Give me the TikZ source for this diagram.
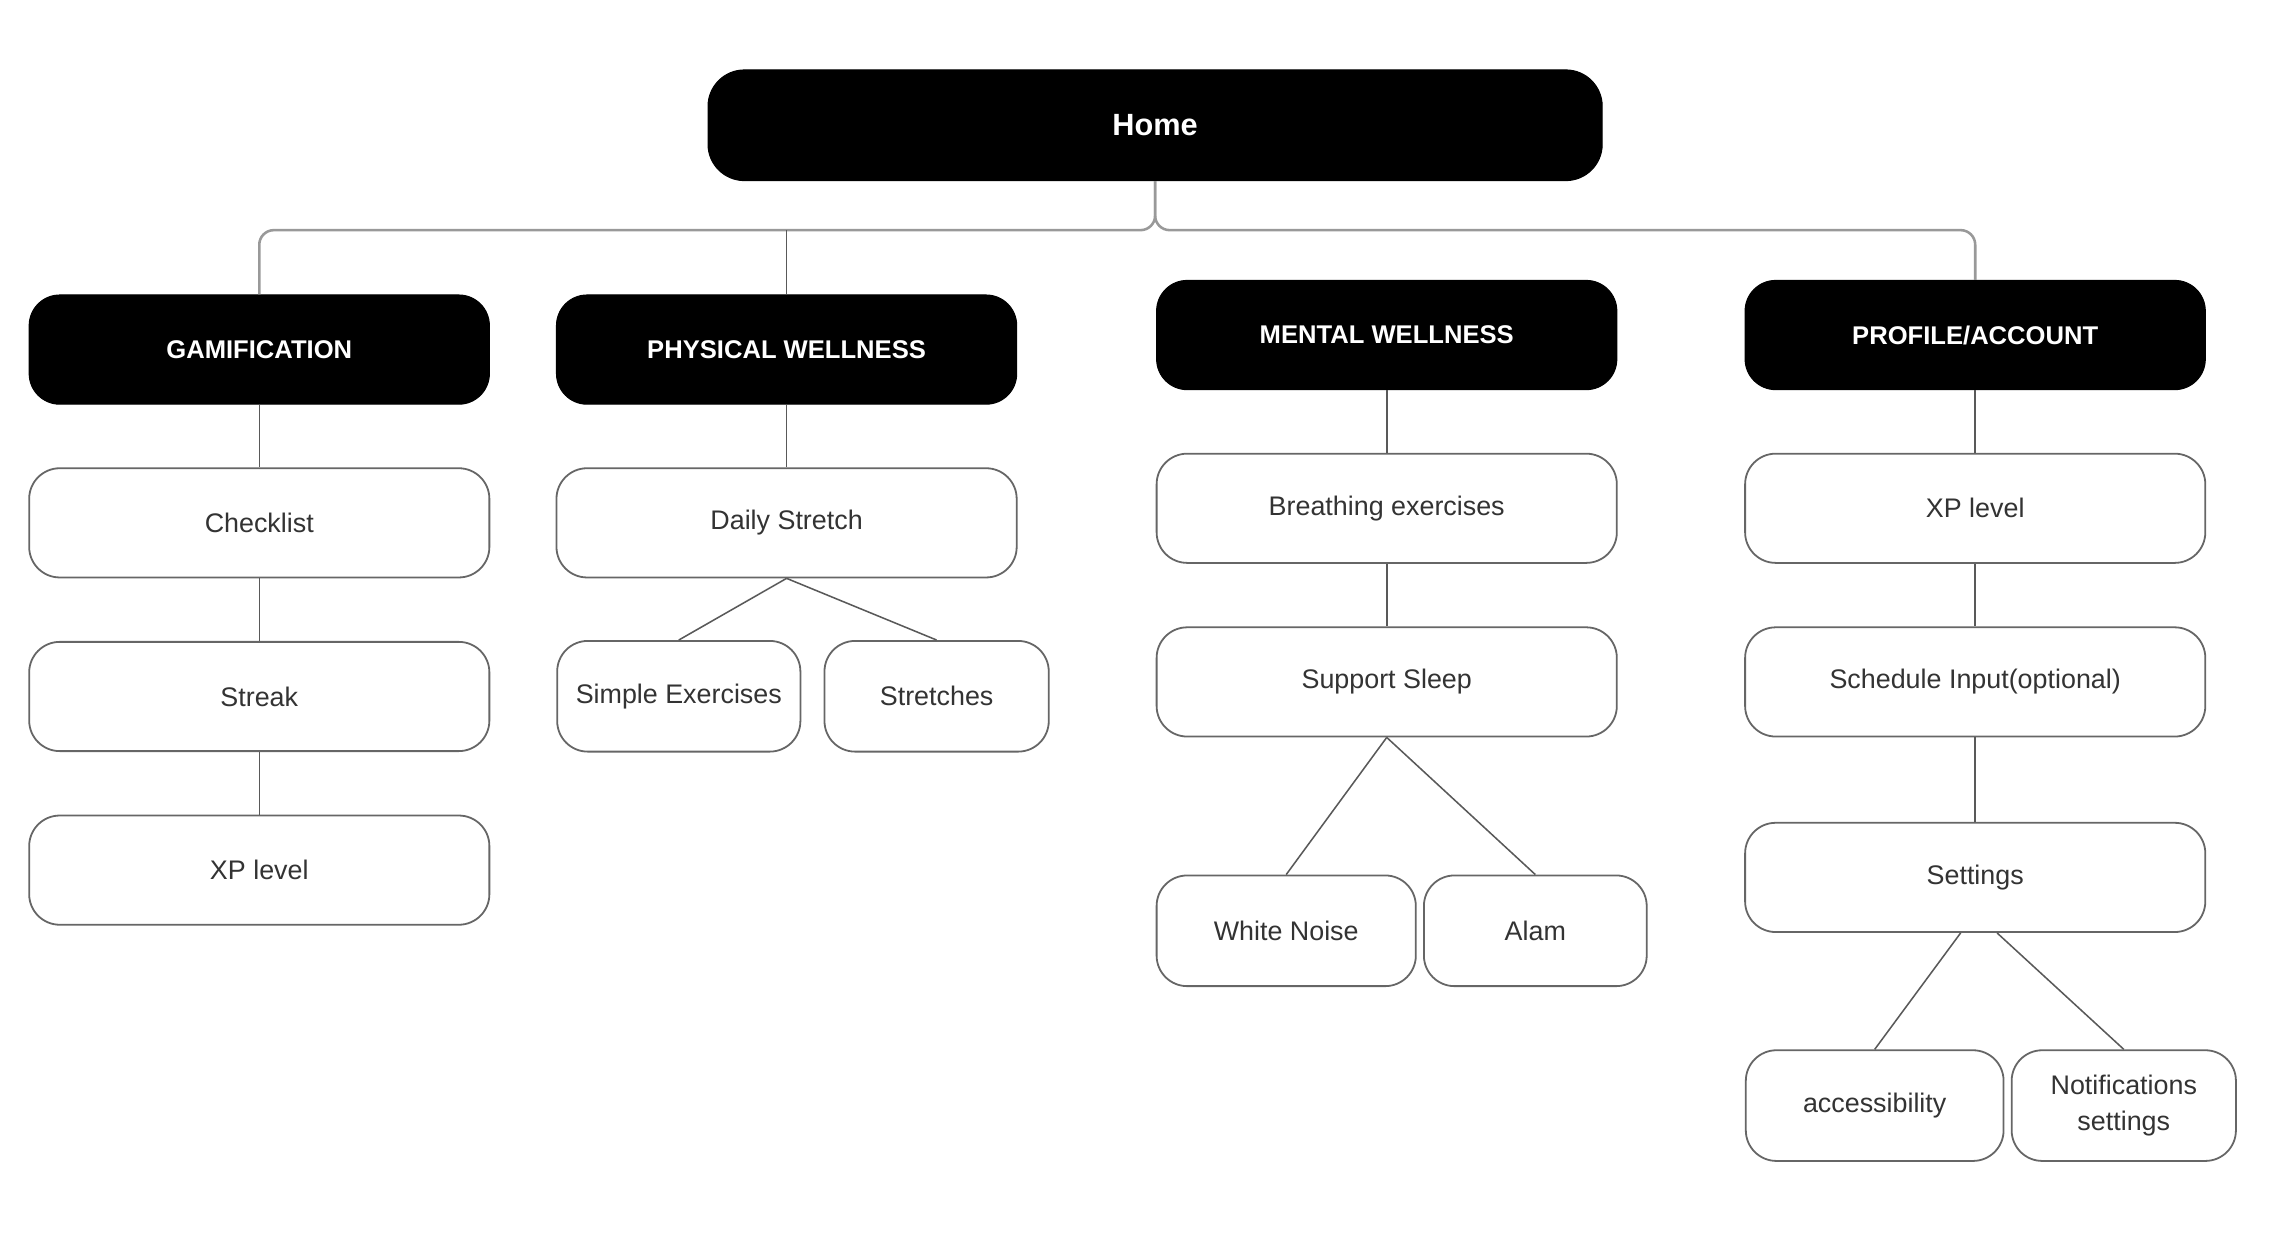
\documentclass[tikz,border=0pt]{standalone}
\usepackage{fontspec}
\setmainfont{Liberation Sans}
\usetikzlibrary{positioning}

\begin{document}
\begin{tikzpicture}[x=0.02cm,y=-0.02cm,node distance=0.86cm,
  head node/.style={rectangle,rounded corners=0.42cm,fill=black,draw=black,text=white,font=\fontsize{10}{12}\selectfont\bfseries,minimum width=6.32cm,minimum height=1.5cm},
  sub node/.style={rectangle,rounded corners=0.42cm,draw=black!60,line width=0.7pt,fill=white,text=black!80,font=\fontsize{10.5}{14}\selectfont,minimum width=6.32cm,minimum height=1.5cm,align=center},
  leaf node/.style={sub node,minimum height=1.52cm},
  link/.style={draw=black!65,line width=0.6pt},
  bus link/.style={draw=black!40,line width=1pt,rounded corners=0.2cm}]

\useasboundingbox (0,0) rectangle (1568,855);

% top level
\node[head node,minimum width=12.28cm,minimum height=1.52cm,rounded corners=0.5cm,font=\fontsize{12}{14}\selectfont\bfseries] (home) at (793,86) {Home};
\node[head node] (gam) at (178,240) {GAMIFICATION};
\node[head node] (phys) at (540,240) {PHYSICAL WELLNESS};
\node[head node] (ment) at (952,230) {MENTAL WELLNESS};
\node[head node] (prof) at (1356,230) {PROFILE/ACCOUNT};

% gamification
\node[sub node] (check) [below=of gam] {Checklist};
\node[sub node] (streak) [below=of check] {Streak};
\node[sub node] (xpgam) [below=of streak] {XP level};

% physical wellness
\node[sub node] (stretch) [below=of phys] {Daily Stretch};
\node[leaf node,minimum width=3.34cm] (simple) at (466,478) {Simple Exercises};
\node[leaf node,minimum width=3.08cm] (stretches) at (643,478) {Stretches};

% mental wellness
\node[sub node] (breath) [below=of ment] {Breathing exercises};
\node[sub node] (sleep) [below=of breath] {Support Sleep};
\node[leaf node,minimum width=3.56cm] (noise) at (883,639) {White Noise};
\node[leaf node,minimum width=3.06cm] (alam) at (1054,639) {Alam};

% profile
\node[sub node] (xpprof) [below=of prof] {XP level};
\node[sub node] (sched) [below=of xpprof] {Schedule Input(optional)};
\node[sub node] (sett) [below=1.16cm of sched] {Settings};
\node[leaf node,minimum width=3.54cm] (access) at (1287,759) {accessibility};
\node[leaf node,minimum width=3.08cm] (notif) at (1458,759) {Notifications\\settings};

\coordinate (bus) at (793,158);
\draw[bus link] (home.south) -- (bus) -| (gam.north);
\draw[bus link] (home.south) -- (bus) -| (prof.north);
\draw[link] (phys.north) -- (phys.north |- bus);

\path[link]
  (gam) edge (check)
  (check) edge (streak)
  (streak) edge (xpgam)
  (phys) edge (stretch)
  (stretch.south) edge (simple.north)
  (stretch.south) edge (stretches.north)
  (ment) edge (breath)
  (breath) edge (sleep)
  (sleep.south) edge (noise.north)
  (sleep.south) edge (alam.north)
  (prof) edge (xpprof)
  (xpprof) edge (sched)
  (sched) edge (sett)
  ([xshift=-0.2cm]sett.south) edge (access.north)
  ([xshift=0.3cm]sett.south) edge (notif.north)
  ;
\end{tikzpicture}
\end{document}
